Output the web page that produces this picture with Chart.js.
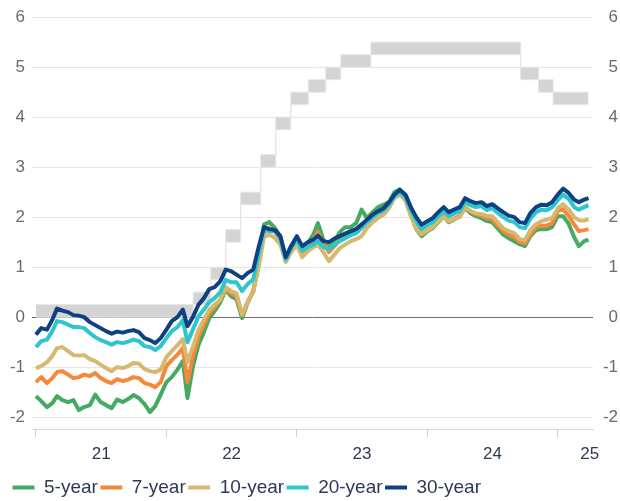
<!DOCTYPE html>
<html>
<head>
<meta charset="utf-8">
<script src="https://cdn.jsdelivr.net/npm/chart.js@4.4.1/dist/chart.umd.min.js"></script>
<style>
  html, body { margin: 0; padding: 0; background: #fff; }
  #wrap { width: 620px; height: 501px; }
</style>
</head>
<body>
<div id="wrap"><canvas id="yieldChart" width="620" height="501"></canvas></div>
<script>
// observation dates (semi-monthly)
const dates = [
  '2021-01-01','2021-01-16','2021-02-01','2021-02-16','2021-03-01','2021-03-16','2021-04-01','2021-04-16',
  '2021-05-01','2021-05-16','2021-06-01','2021-06-16','2021-07-01','2021-07-16','2021-08-01','2021-08-16',
  '2021-09-01','2021-09-16','2021-10-01','2021-10-16','2021-11-01','2021-11-16','2021-12-01','2021-12-16',
  '2022-01-01','2022-01-16','2022-02-01','2022-02-16','2022-03-01','2022-03-16','2022-04-01','2022-04-16',
  '2022-05-01','2022-05-16','2022-06-01','2022-06-16','2022-07-01','2022-07-16','2022-08-01','2022-08-16',
  '2022-09-01','2022-09-16','2022-10-01','2022-10-16','2022-11-01','2022-11-16','2022-12-01','2022-12-16',
  '2023-01-01','2023-01-16','2023-02-01','2023-02-16','2023-03-01','2023-03-16','2023-04-01','2023-04-16',
  '2023-05-01','2023-05-16','2023-06-01','2023-06-16','2023-07-01','2023-07-16','2023-08-01','2023-08-16',
  '2023-09-01','2023-09-16','2023-10-01','2023-10-16','2023-11-01','2023-11-16','2023-12-01','2023-12-16',
  '2024-01-01','2024-01-16','2024-02-01','2024-02-16','2024-03-01','2024-03-16','2024-04-01','2024-04-16',
  '2024-05-01','2024-05-16','2024-06-01','2024-06-16','2024-07-01','2024-07-16','2024-08-01','2024-08-16',
  '2024-09-01','2024-09-16','2024-10-01','2024-10-16','2024-11-01','2024-11-16','2024-12-01','2024-12-16',
  '2025-01-01','2025-01-16','2025-02-01','2025-02-16','2025-03-01','2025-03-16','2025-03-28'
];

const yield5 = [
  -1.58,-1.68,-1.80,-1.72,-1.58,-1.66,-1.70,-1.66,-1.86,-1.80,-1.76,-1.55,-1.70,-1.76,-1.82,-1.65,
  -1.70,-1.64,-1.56,-1.62,-1.74,-1.90,-1.78,-1.55,
  -1.30,-1.20,-1.05,-0.88,-1.62,-1.00,-0.55,-0.30,-0.02,0.12,0.30,0.55,0.42,0.36,-0.02,0.28,
  0.52,1.10,1.85,1.90,1.78,1.60,1.18,1.42,
  1.60,1.30,1.48,1.65,1.88,1.55,1.38,1.50,1.70,1.80,1.80,1.88,2.15,1.98,2.10,2.20,
  2.25,2.30,2.50,2.55,2.36,2.05,1.76,1.62,
  1.72,1.78,1.90,2.02,1.90,1.95,2.02,2.18,2.08,2.02,1.98,1.92,1.90,1.78,1.65,1.58,
  1.52,1.46,1.42,1.62,1.74,1.76,1.76,1.80,
  2.02,2.02,1.86,1.60,1.42,1.52,1.55
];
const yield7 = [
  -1.30,-1.20,-1.32,-1.22,-1.10,-1.08,-1.15,-1.22,-1.20,-1.15,-1.18,-1.12,-1.22,-1.28,-1.32,-1.24,
  -1.28,-1.25,-1.20,-1.22,-1.32,-1.35,-1.40,-1.30,
  -0.98,-0.86,-0.75,-0.62,-1.30,-0.80,-0.38,-0.15,0.08,0.20,0.35,0.56,0.48,0.42,0.04,0.30,
  0.52,1.05,1.68,1.78,1.70,1.55,1.15,1.38,
  1.55,1.28,1.42,1.55,1.70,1.50,1.30,1.42,1.55,1.62,1.68,1.72,1.86,1.90,2.00,2.08,
  2.12,2.22,2.42,2.48,2.35,2.05,1.78,1.66,
  1.74,1.80,1.92,2.02,1.92,1.97,2.02,2.20,2.12,2.06,2.03,1.98,1.96,1.84,1.72,1.65,
  1.60,1.50,1.48,1.66,1.80,1.83,1.83,1.88,
  2.12,2.16,2.02,1.85,1.72,1.74,1.76
];
const yield10 = [
  -1.02,-0.98,-0.90,-0.78,-0.62,-0.60,-0.68,-0.76,-0.77,-0.76,-0.84,-0.88,-0.95,-1.02,-1.08,-1.00,
  -1.02,-0.98,-0.92,-0.93,-1.04,-1.08,-1.10,-1.05,
  -0.80,-0.68,-0.56,-0.44,-0.90,-0.60,-0.25,-0.05,0.15,0.25,0.35,0.60,0.52,0.48,0.05,0.30,
  0.50,1.00,1.60,1.65,1.58,1.45,1.10,1.30,
  1.45,1.20,1.32,1.40,1.45,1.30,1.12,1.25,1.38,1.45,1.52,1.56,1.62,1.78,1.90,1.98,
  2.05,2.18,2.38,2.45,2.33,2.02,1.78,1.66,
  1.74,1.80,1.92,2.00,1.92,1.96,2.00,2.20,2.12,2.08,2.06,2.03,2.02,1.90,1.78,1.72,
  1.68,1.56,1.54,1.74,1.86,1.92,1.95,1.98,
  2.18,2.26,2.15,2.00,1.94,1.93,1.96
];
const yield20 = [
  -0.60,-0.48,-0.45,-0.28,-0.08,-0.10,-0.15,-0.20,-0.20,-0.22,-0.32,-0.40,-0.46,-0.50,-0.55,-0.50,
  -0.52,-0.49,-0.45,-0.48,-0.58,-0.60,-0.66,-0.58,
  -0.42,-0.28,-0.20,-0.06,-0.50,-0.25,0.02,0.15,0.30,0.38,0.50,0.74,0.70,0.70,0.52,0.66,
  0.76,1.25,1.75,1.72,1.72,1.58,1.15,1.38,
  1.55,1.33,1.40,1.45,1.52,1.40,1.36,1.45,1.52,1.58,1.64,1.68,1.78,1.90,2.00,2.08,
  2.14,2.25,2.42,2.50,2.40,2.13,1.92,1.76,
  1.84,1.90,2.02,2.12,2.02,2.07,2.12,2.30,2.24,2.20,2.22,2.14,2.18,2.09,2.00,1.93,
  1.90,1.80,1.78,1.97,2.10,2.15,2.14,2.20,
  2.34,2.45,2.36,2.20,2.15,2.20,2.24
];
const yield30 = [
  -0.35,-0.22,-0.25,-0.05,0.17,0.13,0.10,0.04,0.03,0.00,-0.10,-0.16,-0.22,-0.28,-0.33,-0.29,
  -0.31,-0.28,-0.26,-0.30,-0.42,-0.46,-0.52,-0.42,
  -0.25,-0.08,0.00,0.15,-0.18,0.00,0.25,0.38,0.56,0.60,0.72,0.95,0.92,0.85,0.78,0.88,
  0.95,1.40,1.80,1.76,1.74,1.62,1.20,1.42,
  1.62,1.42,1.50,1.55,1.63,1.52,1.50,1.57,1.62,1.67,1.72,1.76,1.85,1.95,2.05,2.12,
  2.18,2.30,2.45,2.55,2.45,2.20,2.00,1.85,
  1.92,1.98,2.10,2.20,2.10,2.15,2.20,2.38,2.32,2.28,2.30,2.22,2.26,2.18,2.10,2.03,
  2.00,1.90,1.88,2.08,2.20,2.25,2.24,2.30,
  2.45,2.57,2.48,2.35,2.30,2.35,2.38
];

// Fed funds target range
const ffDates = ['2021-01-01','2022-03-17','2022-05-05','2022-06-16','2022-07-28','2022-09-22','2022-11-03',
  '2022-12-15','2023-02-02','2023-03-23','2023-05-04','2023-07-27','2024-09-19','2024-11-08','2024-12-19','2025-03-28'];
const ffLower = [0, 0.25, 0.75, 1.5, 2.25, 3, 3.75, 4.25, 4.5, 4.75, 5, 5.25, 4.75, 4.5, 4.25, 4.25];
const ffUpper = [0.25, 0.5, 1, 1.75, 2.5, 3.25, 4, 4.5, 4.75, 5, 5.25, 5.5, 5, 4.75, 4.5, 4.5];

const seriesNames = ['5-year', '7-year', '10-year', '20-year', '30-year'];
const seriesColors = ['#46aa62', '#f5883a', '#d6b970', '#2ec6cc', '#0d4183'];
const yTicks = [-2, -1, 0, 1, 2, 3, 4, 5, 6];
const yearTicks = [2021, 2022, 2023, 2024, 2025];
const yearLabels = ['21', '22', '23', '24', '25'];

const xMin = 2020.97, xMax = 2025.27;

function toYear(s) {
  const d = Date.parse(s + 'T00:00:00Z');
  const y = Number(s.slice(0, 4));
  const a = Date.UTC(y, 0, 1), b = Date.UTC(y + 1, 0, 1);
  return y + (d - a) / (b - a);
}
const xs = dates.map(toYear);
const pts = arr => arr.map((v, i) => ({ x: xs[i], y: v }));
const ffPts = arr => arr.map((v, i) => ({ x: toYear(ffDates[i]), y: v }));

// label ticks sit mid-year (last one pulled inside the axis)
const labelTicks = yearTicks.map(y => Math.min(y + 0.5, xMax - 0.025));
const labelFor = {};
labelTicks.forEach((v, i) => { labelFor[v.toFixed(4)] = yearLabels[i]; });

const fontFamily = '"Liberation Sans", Arial, sans-serif';
const series = [yield5, yield7, yield10, yield20, yield30];

const datasets = series.map((arr, i) => ({
  label: seriesNames[i],
  data: pts(arr),
  borderColor: seriesColors[i],
  backgroundColor: seriesColors[i],
  borderWidth: 4,
  pointRadius: 0,
  tension: 0,
  borderJoinStyle: 'round',
  fill: false,
  order: 5 - i
}));
datasets.push({
  label: 'ff-low',
  data: ffPts(ffLower),
  stepped: true,
  borderColor: '#e6e6e6',
  borderWidth: 1,
  pointRadius: 0,
  fill: false,
  order: 10
});
datasets.push({
  label: 'ff-high',
  data: ffPts(ffUpper),
  stepped: true,
  borderColor: '#e6e6e6',
  borderWidth: 1,
  backgroundColor: '#d4d4d4',
  pointRadius: 0,
  fill: '-1',
  order: 10
});

const yAxisBase = {
  type: 'linear',
  min: -2.24,
  max: 6,
  afterBuildTicks: axis => { axis.ticks = yTicks.map(v => ({ value: v })); },
  border: { display: false },
  ticks: { color: '#6b6b6b', font: { family: fontFamily, size: 17 }, padding: 7 }
};

const ctx = document.getElementById('yieldChart');
new Chart(ctx, {
  type: 'line',
  data: { datasets },
  options: {
    responsive: false,
    animation: false,
    layout: { padding: { left: 10, right: 2, top: 16, bottom: -6 } },
    scales: {
      x: {
        type: 'linear',
        min: xMin,
        max: xMax,
        afterBuildTicks: axis => {
          axis.ticks = yearTicks.concat(labelTicks).sort((a, b) => a - b).map(v => ({ value: v }));
        },
        afterFit: axis => { axis.height += 4; },
        border: { display: true, color: '#d9d9d9' },
        grid: {
          drawOnChartArea: false,
          drawTicks: true,
          tickLength: 8,
          tickColor: c => Number.isInteger(c.tick.value) ? '#cfcfcf' : 'rgba(0,0,0,0)'
        },
        ticks: {
          autoSkip: false,
          maxRotation: 0,
          padding: 7,
          color: '#2b3a55',
          font: { family: fontFamily, size: 17 },
          callback: v => labelFor[Number(v).toFixed(4)] || ''
        }
      },
      y: Object.assign({}, yAxisBase, {
        position: 'left',
        afterFit: axis => { axis.width = 22; },
        grid: {
          drawTicks: false,
          color: c => c.tick.value === 0 ? '#6e6e6e' : '#e6e6e6',
          lineWidth: 1
        }
      }),
      yRight: Object.assign({}, yAxisBase, {
        position: 'right',
        afterFit: axis => { axis.width = 25; },
        grid: { drawOnChartArea: false, drawTicks: false },
        ticks: Object.assign({}, yAxisBase.ticks, { crossAlign: 'far' })
      })
    },
    plugins: {
      tooltip: { enabled: false },
      legend: {
        position: 'bottom',
        align: 'start',
        labels: {
          boxWidth: 22,
          boxHeight: 4,
          padding: 2.5,
          color: '#2b3a55',
          font: { family: fontFamily, size: 19 },
          sort: (a, b) => a.datasetIndex - b.datasetIndex,
          generateLabels: chart => Chart.defaults.plugins.legend.labels.generateLabels(chart)
            .filter(l => l.datasetIndex < 5)
            .map(l => Object.assign(l, { lineWidth: 0, fillStyle: l.strokeStyle }))
        }
      }
    }
  }
});
</script>
</body>
</html>
